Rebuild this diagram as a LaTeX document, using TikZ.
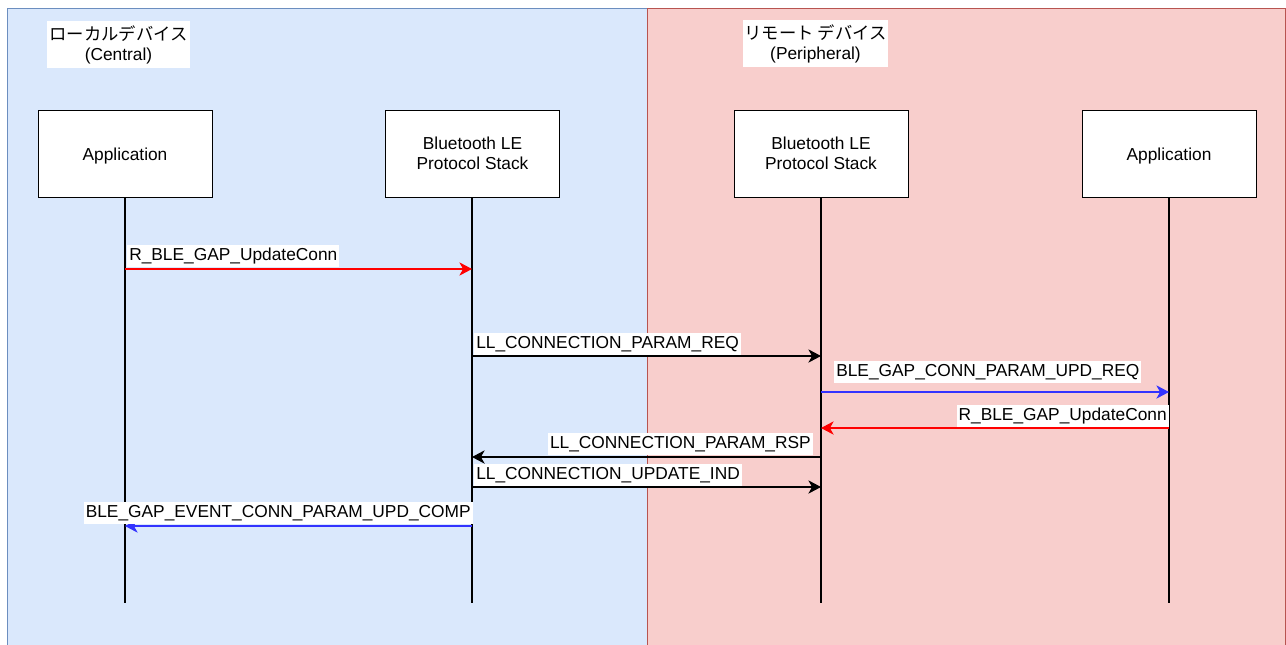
\documentclass[tikz,border=0pt]{standalone}
\usepackage{fontspec}
\setmainfont{Liberation Sans}
\newfontfamily\jpfont{Noto Sans CJK JP}
\usetikzlibrary{arrows.meta}
\definecolor{bluefill}{HTML}{DAE8FC}
\definecolor{bluedraw}{HTML}{6C8EBF}
\definecolor{redfill}{HTML}{F8CECC}
\definecolor{reddraw}{HTML}{B85450}
\definecolor{msgred}{HTML}{FF0000}
\definecolor{msgblue}{HTML}{3333FF}
\tikzset{
  actor/.style={draw=black, fill=white, line width=0.75pt, minimum width=130.5pt, minimum height=65.25pt, align=center, inner sep=0pt, font=\fontsize{13}{15}\selectfont},
  appactor/.style={actor, text height=14pt, text depth=2.8pt},
  lifeline/.style={draw=black, line width=0.8pt},
  msg/.style={line width=0.9pt, -{Stealth[length=9.5pt,width=10pt,inset=2.8pt]}},
  lbl/.style={fill=white, inner xsep=1.5pt, inner ysep=2pt, text height=9.5pt, text depth=2.7pt, font=\fontsize{13}{15}\selectfont},
  titlebox/.style={fill=white, align=center, inner xsep=1pt, inner ysep=3pt, font=\fontsize{13}{15}\selectfont},
}
\begin{document}
\begin{tikzpicture}[x=0.75pt,y=-0.75pt]
\useasboundingbox (0,0) rectangle (1286,644);
% regions
\begin{scope}
\clip (0,0) rectangle (1286,644);
\draw[fill=bluefill, draw=bluedraw, line width=0.75pt] (7,8) rectangle (647,680);
\draw[fill=redfill, draw=reddraw, line width=0.75pt] (647,8) rectangle (1285,680);
\end{scope}
% titles
\node[titlebox, minimum width=107pt] (tl) at (118.5,44.5) {{\jpfont ローカルデバイス}\\(Central)};
\node[titlebox, minimum width=107pt] (tr) at (815.5,43.5) {{\jpfont リモート デバイス}\\(Peripheral)};
% actors
\node[appactor] (appL) at (125,153.5) {Application};
\node[actor] (stkL) at (472.5,153.5) {Bluetooth LE\\Protocol Stack};
\node[actor] (stkR) at (821,153.5) {Bluetooth LE\\Protocol Stack};
\node[appactor] (appR) at (1169,153.5) {Application};
% lifeline ends
\coordinate (eA) at (125,603);
\coordinate (eB) at (472,603);
\coordinate (eC) at (821,603);
\coordinate (eD) at (1169,603);
\draw[lifeline] (appL.south -| eA) -- (eA);
\draw[lifeline] (stkL.south -| eB) -- (eB);
\draw[lifeline] (stkR.south -| eC) -- (eC);
\draw[lifeline] (appR.south -| eD) -- (eD);
% message points
\coordinate (m1a) at (125,269);  \coordinate (m1b) at (472,269);
\coordinate (m2a) at (472,356);  \coordinate (m2b) at (821,356);
\coordinate (m3a) at (821,392);  \coordinate (m3b) at (1169,392);
\coordinate (m4a) at (1169,428); \coordinate (m4b) at (821,428);
\coordinate (m5a) at (821,457);  \coordinate (m5b) at (472,457);
\coordinate (m6a) at (472,487);  \coordinate (m6b) at (821,487);
\coordinate (m7a) at (472,526);  \coordinate (m7b) at (125,526);
% messages
\draw[msg, draw=msgred, color=msgred] (m1a) -- (m1b);
\draw[msg, draw=black] (m2a) -- (m2b);
\draw[msg, draw=msgblue, color=msgblue] (m3a) -- (m3b);
\draw[msg, draw=msgred, color=msgred] (m4a) -- (m4b);
\draw[msg, draw=black] (m5a) -- (m5b);
\draw[msg, draw=black] (m6a) -- (m6b);
\draw[msg, draw=msgblue, color=msgblue] (m7a) -- (m7b);
% labels
\node[lbl, anchor=south west] (l1) at (127,267) {R\_BLE\_GAP\_UpdateConn};
\node[lbl, anchor=south west] (l2) at (474,355) {LL\_CONNECTION\_PARAM\_REQ};
\node[lbl, anchor=south west] (l3) at (834,383) {BLE\_GAP\_CONN\_PARAM\_UPD\_REQ};
\node[lbl, anchor=south east] (l4) at (1169,427) {R\_BLE\_GAP\_UpdateConn};
\node[lbl, anchor=south east] (l5) at (813,455) {LL\_CONNECTION\_PARAM\_RSP};
\node[lbl, anchor=south west] (l6) at (474,486) {LL\_CONNECTION\_UPDATE\_IND};
\node[lbl, anchor=south east] (l7) at (473,524) {BLE\_GAP\_EVENT\_CONN\_PARAM\_UPD\_COMP};
\end{tikzpicture}
\end{document}
